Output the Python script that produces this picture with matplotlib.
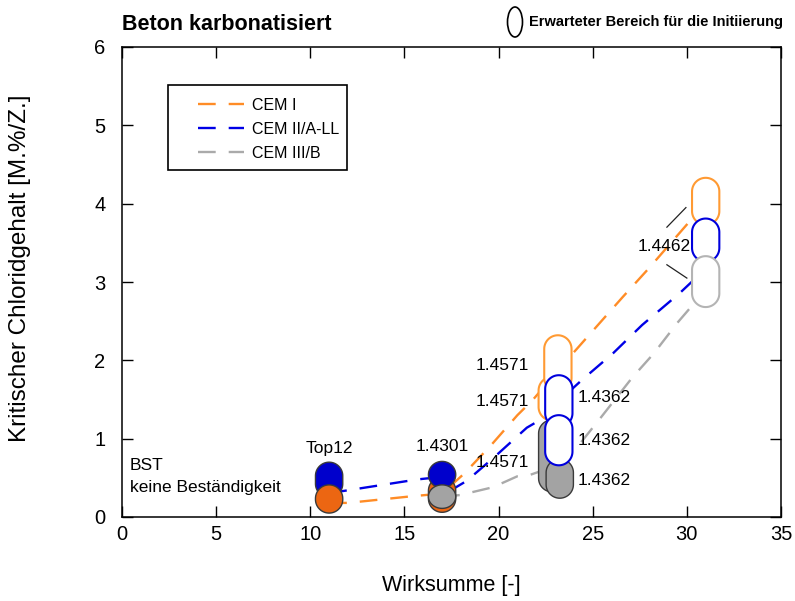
import numpy as np
import matplotlib
matplotlib.use("Agg")
import matplotlib.pyplot as plt
from matplotlib.patches import Polygon, Ellipse, Rectangle

plt.rcParams['font.family'] = ['Liberation Sans', 'DejaVu Sans']

# gestrichelte Verlaeufe
cem1_x = [11.0, 12.0, 15.2, 17.0, 18.2, 19.65, 21.0, 21.8, 23.95, 25.2, 26.6, 28.0, 30.06, 31.0]
cem1_y = [0.18, 0.18, 0.26, 0.30, 0.56, 0.93, 1.30, 1.49, 2.09, 2.43, 2.81, 3.18, 3.75, 4.00]
cem2_x = [11.0, 11.7, 15.7, 16.5, 17.6, 18.3, 19.8, 21.5, 21.93, 24.43, 26.08, 27.62, 29.63, 31.0]
cem2_y = [0.32, 0.33, 0.48, 0.50, 0.36, 0.46, 0.77, 1.14, 1.20, 1.75, 2.09, 2.45, 2.86, 3.17]
cem3_x = [17.0, 17.95, 19.7, 21.0, 21.7, 23.0, 24.2, 25.4, 27.1, 28.25, 29.5, 31.0]
cem3_y = [0.26, 0.28, 0.38, 0.52, 0.54, 0.65, 0.90, 1.26, 1.78, 2.09, 2.48, 2.90]

# Bereiche (Wirksumme, von, bis, Zement, gemessen)
pill_x = [11.0, 11.0, 17.0, 17.0, 17.0, 22.85, 23.25, 22.85, 23.15, 23.2, 23.2, 31.0, 31.0, 31.0]
pill_lo = [0.25, 0.05, 0.06, 0.37, 0.11, 0.32, 0.24, 1.23, 1.60, 1.15, 0.66, 3.73, 3.26, 2.68]
pill_hi = [0.70, 0.41, 0.51, 0.71, 0.41, 1.24, 0.74, 1.79, 2.32, 1.81, 1.30, 4.33, 3.81, 3.33]
pill_cem = ['CEM II/A-LL', 'CEM I', 'CEM I', 'CEM II/A-LL', 'CEM III/B', 'CEM III/B', 'CEM III/B',
            'CEM I', 'CEM I', 'CEM II/A-LL', 'CEM II/A-LL', 'CEM I', 'CEM II/A-LL', 'CEM III/B']
pill_filled = [True, True, True, True, True, True, True,
               False, False, False, False, False, False, False]

left_labels_y = [1.94, 1.47, 0.69]
right_labels_y = [1.52, 0.98, 0.47]

line_colors = {'CEM I': '#ff8c26', 'CEM II/A-LL': '#0000e6', 'CEM III/B': '#aaaaaa'}
fill_colors = {'CEM I': '#ec6612', 'CEM II/A-LL': '#0000cc', 'CEM III/B': '#a3a3a3'}
edge_colors = {'CEM I': '#ff9a33', 'CEM II/A-LL': '#0000dd', 'CEM III/B': '#b4b4b4'}

W, H = 795, 601
fig = plt.figure(figsize=(W / 100, H / 100), dpi=100)
ax = fig.add_axes([122 / W, 84 / H, 659 / W, 470 / H])
ax.set_xlim(0, 35)
ax.set_ylim(0, 6)

dash = (0, (7.5, 5.5))
ax.plot(cem1_x, cem1_y, color=line_colors['CEM I'], lw=1.7, ls=dash, label='CEM I', zorder=2)
ax.plot(cem2_x, cem2_y, color=line_colors['CEM II/A-LL'], lw=1.7, ls=dash, label='CEM II/A-LL', zorder=2)
ax.plot(cem3_x, cem3_y, color=line_colors['CEM III/B'], lw=1.7, ls=dash, label='CEM III/B', zorder=2)

# stadium shape, round ends corrected for the unequal x/y scales
px_x = 659 / 35
px_y = 470 / 6
aspect = px_x / px_y
w = 1.45


def stadium(xc, lo, hi):
    rx = w / 2
    ry = min(rx * aspect, (hi - lo) / 2)
    t = np.linspace(0, np.pi, 40)
    top = np.column_stack([xc + rx * np.cos(t), hi - ry + ry * np.sin(t)])
    bot = np.column_stack([xc - rx * np.cos(t), lo + ry - ry * np.sin(t)])
    return np.vstack([top, bot])


for i in range(len(pill_x)):
    if pill_filled[i]:
        fc, ec, lw = fill_colors[pill_cem[i]], '#3a3a3a', 1.0
    else:
        fc, ec, lw = 'white', edge_colors[pill_cem[i]], 1.5
    ax.add_patch(Polygon(stadium(pill_x[i], pill_lo[i], pill_hi[i]), closed=True,
                         fc=fc, ec=ec, lw=lw, zorder=3 + i * 0.01))

fs = 12.5
for y in left_labels_y:
    ax.text(21.6, y, '1.4571', ha='right', va='center', fontsize=fs)
for y in right_labels_y:
    ax.text(24.2, y, '1.4362', ha='left', va='center', fontsize=fs)
ax.text(11.0, 0.88, 'Top12', ha='center', va='center', fontsize=fs)
ax.text(17.0, 0.9, '1.4301', ha='center', va='center', fontsize=fs)
ax.text(28.8, 3.45, '1.4462', ha='center', va='center', fontsize=fs)
ax.plot([28.94, 29.95], [3.70, 3.95], color='#222222', lw=0.9, zorder=2)
ax.plot([28.94, 30.0], [3.22, 3.05], color='#222222', lw=0.9, zorder=2)
ax.text(0.42, 0.66, 'BST', ha='left', va='center', fontsize=12.5)
ax.text(0.42, 0.38, 'keine Beständigkeit', ha='left', va='center', fontsize=12.5)

ax.set_xticks(range(0, 36, 5))
ax.set_yticks(range(0, 7))
ax.tick_params(direction='in', top=True, right=True, length=8, width=1, labelsize=14.5)
ax.tick_params(axis='x', pad=6)
ax.tick_params(axis='y', pad=12)
for s in ax.spines.values():
    s.set_linewidth(1.1)

ax.set_xlabel('Wirksumme [-]', fontsize=15.5, labelpad=22)
ax.set_ylabel('Kritischer Chloridgehalt [M.%/Z.]', fontsize=17.5)
ax.yaxis.set_label_coords((31 - 122) / 659, 0.53)

# legend: frame drawn separately to get the wide left margin
ax.add_patch(Rectangle(((168 - 122) / 659, (517 - 170) / 470), 179 / 659, 85 / 470,
                       transform=ax.transAxes, fc='white', ec='black', lw=1.2, zorder=5))
leg = ax.legend(loc='upper left', bbox_to_anchor=((198 - 122) / 659, (517 - 98) / 470),
                fontsize=11.5, frameon=False, handlelength=2.9, borderpad=0,
                borderaxespad=0, labelspacing=0.55, handletextpad=0.5)
leg.set_zorder(6)

fig.text(122 / W, 1 - 24 / H, 'Beton karbonatisiert', fontsize=15.5, fontweight='bold', va='center')
fig.add_artist(Ellipse((515 / W, 1 - 22 / H), 15 / W, 30 / H, transform=fig.transFigure,
                       fc='none', ec='black', lw=1.2))
fig.text(529 / W, 1 - 22 / H, 'Erwarteter Bereich für die Initiierung', fontsize=10.5,
         fontweight='bold', va='center')

fig.savefig('out.png', dpi=100)
